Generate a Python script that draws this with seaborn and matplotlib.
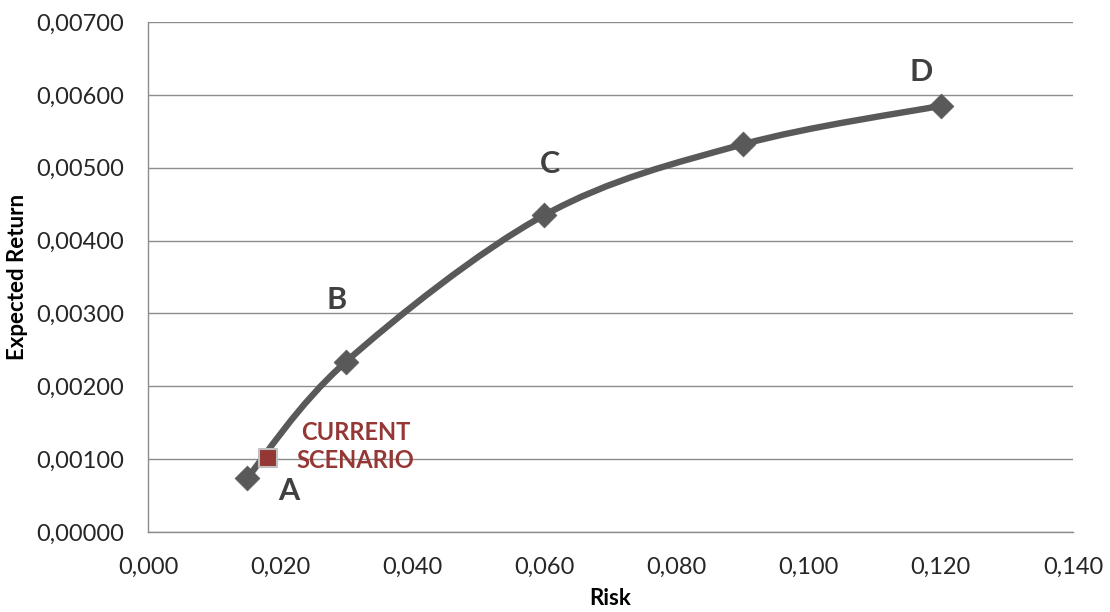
import numpy as np
import pandas as pd
import matplotlib
matplotlib.use("Agg")
import matplotlib.pyplot as plt
from matplotlib.path import Path
from matplotlib.patches import PathPatch
import seaborn as sns

# ---- data ----
risk = [0.015, 0.030, 0.060, 0.090, 0.120]
expected_return = [0.00074, 0.00234, 0.00435, 0.00532, 0.00585]
point_labels = ["A", "B", "C", None, "D"]
current_risk = [0.0182]
current_return = [0.00102]
current_label = "CURRENT\nSCENARIO"
x_ticks = [0.000, 0.020, 0.040, 0.060, 0.080, 0.100, 0.120, 0.140]
y_ticks = [0.000, 0.001, 0.002, 0.003, 0.004, 0.005, 0.006, 0.007]

sns.set_theme(style="white")
plt.rcParams['font.family'] = ['Lato', 'DejaVu Sans']

fig = plt.figure(figsize=(11.1, 6.12), dpi=100)
ax = fig.add_axes([148/1110, 1-532/612, (1073-148)/1110, (532-22)/612])

line_col = "#595959"

# smoothed curve (Excel-style Bezier through the points)
pts = np.column_stack([risk, expected_return])
verts = [tuple(pts[0])]
codes = [Path.MOVETO]
n = len(pts)
for i in range(n - 1):
    p0 = pts[i - 1] if i > 0 else pts[i]
    p1 = pts[i]
    p2 = pts[i + 1]
    p3 = pts[i + 2] if i + 2 < n else pts[i + 1]
    c1 = p1 + (p2 - p0) / 6.0
    c2 = p2 - (p3 - p1) / 6.0
    verts += [tuple(c1), tuple(c2), tuple(p2)]
    codes += [Path.CURVE4] * 3
patch = PathPatch(Path(verts, codes), facecolor="none", edgecolor=line_col,
                  lw=4.6, capstyle="round", joinstyle="round", zorder=3)
ax.add_patch(patch)

df = pd.DataFrame({"risk": risk, "ret": expected_return})
sns.scatterplot(data=df, x="risk", y="ret", marker="D", s=160, color=line_col,
                edgecolor=line_col, linewidth=0.5, ax=ax, zorder=4, legend=False)

cur = pd.DataFrame({"risk": current_risk, "ret": current_return})
sns.scatterplot(data=cur, x="risk", y="ret", marker="s", s=160, color="#953735",
                edgecolor="#bfbfbf", linewidth=1.5, ax=ax, zorder=5, legend=False)

offsets = {"A": (30, -9), "B": (-7, 44), "C": (4, 37), "D": (-14, 24)}
for xv, yv, lab in zip(risk, expected_return, point_labels):
    if lab:
        ax.annotate(lab, (xv, yv), xytext=offsets[lab], textcoords="offset points",
                    ha="center", va="center", fontsize=22, fontweight="bold",
                    color="#404040", zorder=6)

ax.annotate(current_label, (current_risk[0], current_return[0]), xytext=(63, 8),
            textcoords="offset points", ha="center", va="center", multialignment="center",
            fontsize=17, fontweight="bold", color="#953735", linespacing=1.3, zorder=6)

ax.set_xlim(x_ticks[0], x_ticks[-1])
ax.set_ylim(y_ticks[0], y_ticks[-1])
ax.set_xticks(x_ticks)
ax.set_yticks(y_ticks)
ax.set_xticklabels([f"{v:.3f}".replace(".", ",") for v in x_ticks])
ax.set_yticklabels([f"{v:.5f}".replace(".", ",") for v in y_ticks])
ax.tick_params(axis="both", length=0, labelsize=17, labelcolor="#262626")
ax.tick_params(axis="x", pad=18)
ax.tick_params(axis="y", pad=17)

ax.yaxis.grid(True, color="#8c8c8c", lw=1)
ax.xaxis.grid(False)
ax.set_axisbelow(True)
for s in ["top", "right"]:
    ax.spines[s].set_visible(False)
for s in ["left", "bottom"]:
    ax.spines[s].set_color("#8c8c8c")
    ax.spines[s].set_linewidth(1)

ax.set_xlabel("Risk", fontsize=16, fontweight="bold", color="#000000")
ax.set_ylabel("Expected Return", fontsize=16, fontweight="bold", color="#000000")
ax.xaxis.set_label_coords(0.5, (532 - 588) / 510)
ax.yaxis.set_label_coords((28 - 148) / 925, 0.5)

fig.savefig("out.png", dpi=100)
